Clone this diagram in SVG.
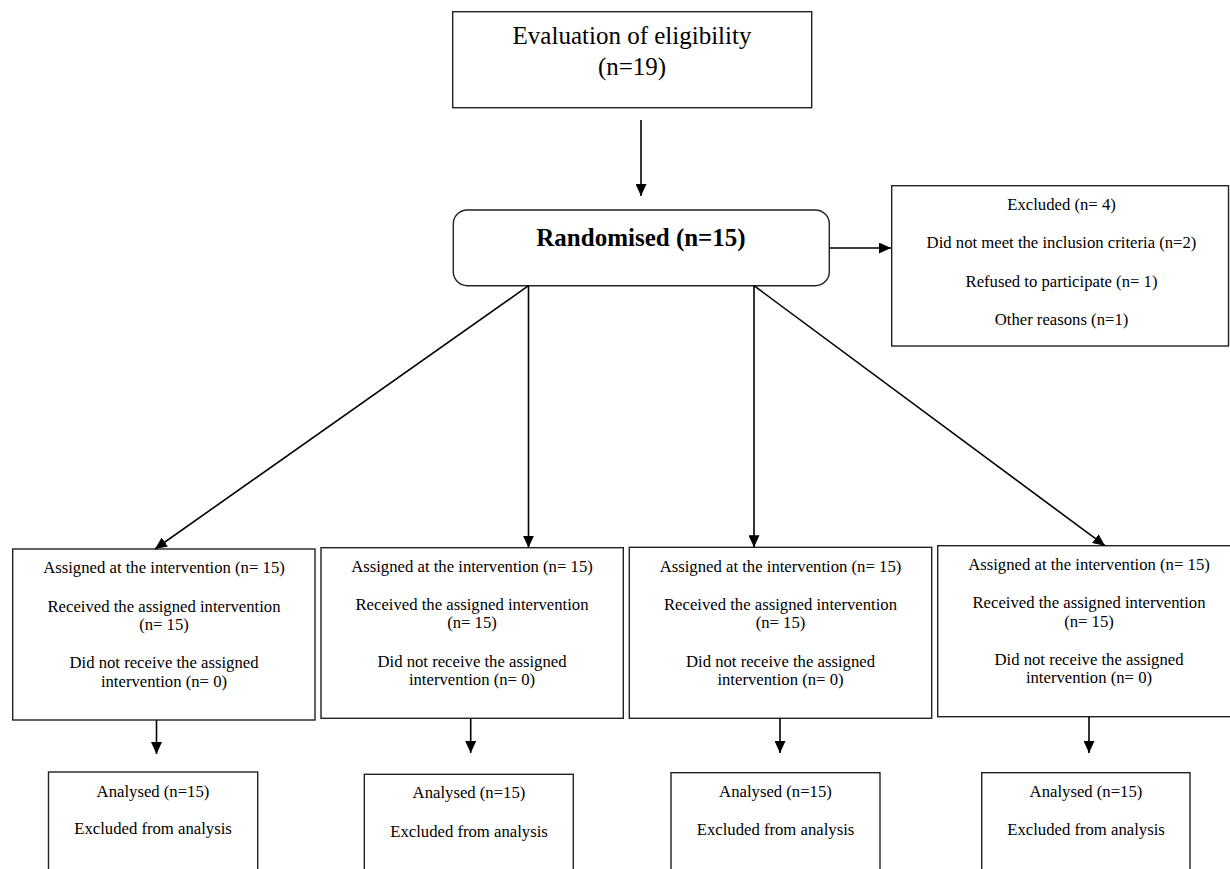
<svg xmlns="http://www.w3.org/2000/svg" width="1230" height="869" viewBox="0 0 1230 869">
<style>
  .box { fill: #fff; stroke: #222; stroke-width: 1.4; }
  .t { font-family: "Liberation Serif", "Times New Roman", serif; fill: #000; text-anchor: middle; }
  .big { font-size: 25px; }
  .bold { font-size: 25px; font-weight: bold; }
  .sm { font-size: 16.7px; }
  .conn line { stroke: #000; stroke-width: 1.6; marker-end: url(#ah); }
</style>
<defs>
  <marker id="ah" markerUnits="userSpaceOnUse" markerWidth="12" markerHeight="11" refX="12" refY="5.5" orient="auto">
    <path d="M0,0 L12,5.5 L0,11 z" fill="#000"/>
  </marker>
</defs>
<rect width="1230" height="869" fill="#fff"/>

<g id="eligibility">
  <rect class="box" x="452.7" y="11.7" width="359" height="96"/>
  <text class="t big" x="632" y="44">Evaluation of eligibility</text>
  <text class="t big" x="632" y="75">(n=19)</text>
</g>

<g id="randomised">
  <rect class="box" x="453.3" y="210" width="376" height="75.7" rx="14" ry="14"/>
  <text class="t bold" x="641" y="246">Randomised (n=15)</text>
</g>

<g id="excluded">
  <rect class="box" x="891.7" y="185.7" width="336.8" height="160.3"/>
  <text class="t sm" x="1061.5" y="210">Excluded (n= 4)</text>
  <text class="t sm" x="1061.5" y="248.3">Did not meet the inclusion criteria (n=2)</text>
  <text class="t sm" x="1061.5" y="286.7">Refused to participate (n= 1)</text>
  <text class="t sm" x="1061.5" y="325">Other reasons (n=1)</text>
</g>

<g id="assigned1">
  <rect class="box" x="12.7" y="549" width="302.3" height="171"/>
  <text class="t sm" x="164" y="573.3">Assigned at the intervention (n= 15)</text>
  <text class="t sm" x="164" y="611.7">Received the assigned intervention</text>
  <text class="t sm" x="164" y="630">(n= 15)</text>
  <text class="t sm" x="164" y="668.3">Did not receive the assigned</text>
  <text class="t sm" x="164" y="686.7">intervention (n= 0)</text>
</g>

<g id="assigned2">
  <rect class="box" x="321" y="547.7" width="302.3" height="170.6"/>
  <text class="t sm" x="472" y="571.7">Assigned at the intervention (n= 15)</text>
  <text class="t sm" x="472" y="610">Received the assigned intervention</text>
  <text class="t sm" x="472" y="628.3">(n= 15)</text>
  <text class="t sm" x="472" y="666.7">Did not receive the assigned</text>
  <text class="t sm" x="472" y="685">intervention (n= 0)</text>
</g>

<g id="assigned3">
  <rect class="box" x="629.3" y="547.3" width="302.4" height="171"/>
  <text class="t sm" x="780.5" y="571.7">Assigned at the intervention (n= 15)</text>
  <text class="t sm" x="780.5" y="610">Received the assigned intervention</text>
  <text class="t sm" x="780.5" y="628.3">(n= 15)</text>
  <text class="t sm" x="780.5" y="666.7">Did not receive the assigned</text>
  <text class="t sm" x="780.5" y="685">intervention (n= 0)</text>
</g>

<g id="assigned4">
  <rect class="box" x="937.7" y="545.7" width="302.6" height="171"/>
  <text class="t sm" x="1089" y="570">Assigned at the intervention (n= 15)</text>
  <text class="t sm" x="1089" y="608.3">Received the assigned intervention</text>
  <text class="t sm" x="1089" y="626.7">(n= 15)</text>
  <text class="t sm" x="1089" y="665">Did not receive the assigned</text>
  <text class="t sm" x="1089" y="683.3">intervention (n= 0)</text>
</g>

<g id="analysed1">
  <rect class="box" x="48.5" y="772" width="209.2" height="110"/>
  <text class="t sm" x="153" y="796.7">Analysed (n=15)</text>
  <text class="t sm" x="153" y="834">Excluded from analysis</text>
</g>

<g id="analysed2">
  <rect class="box" x="364.3" y="774.3" width="209" height="110"/>
  <text class="t sm" x="469" y="798.3">Analysed (n=15)</text>
  <text class="t sm" x="469" y="836.7">Excluded from analysis</text>
</g>

<g id="analysed3">
  <rect class="box" x="671" y="772.7" width="209" height="110"/>
  <text class="t sm" x="775.5" y="796.7">Analysed (n=15)</text>
  <text class="t sm" x="775.5" y="835">Excluded from analysis</text>
</g>

<g id="analysed4">
  <rect class="box" x="981.7" y="772.7" width="208.3" height="110"/>
  <text class="t sm" x="1086" y="796.7">Analysed (n=15)</text>
  <text class="t sm" x="1086" y="835">Excluded from analysis</text>
</g>

<g class="conn" id="connectors">
  <line x1="641" y1="120" x2="641" y2="196"/>
  <line x1="829.3" y1="248" x2="891" y2="248"/>
  <line x1="528.5" y1="285.7" x2="155" y2="549"/>
  <line x1="528.5" y1="285.7" x2="528.5" y2="547.7"/>
  <line x1="754" y1="285.7" x2="754" y2="547.3"/>
  <line x1="754" y1="285.7" x2="1105" y2="545.7"/>
  <line x1="156.5" y1="720" x2="156.5" y2="754"/>
  <line x1="470.7" y1="718.3" x2="470.7" y2="753"/>
  <line x1="780" y1="718.3" x2="780" y2="753"/>
  <line x1="1089" y1="716.7" x2="1089" y2="753"/>
</g>
</svg>
